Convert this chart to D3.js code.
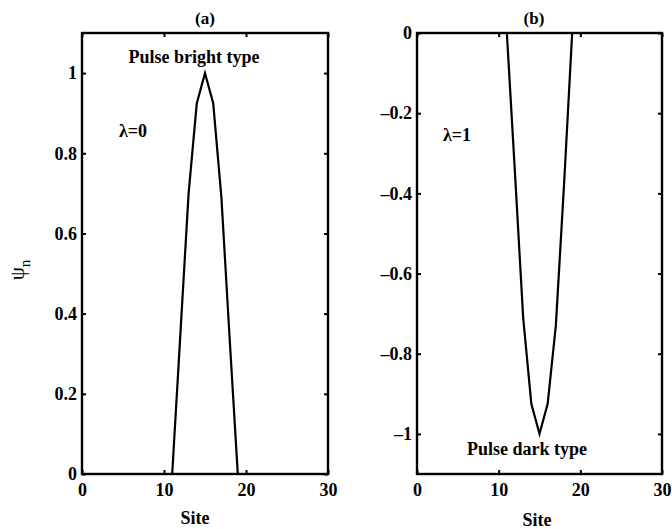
<!DOCTYPE html>
<html lang="en">
<head>
  <meta charset="UTF-8">
  <title>Pulse bright and dark type</title>
  <style>
    html, body { margin: 0; background: #fff; }
    svg text { font-family: "Times New Roman", "Liberation Serif", Times, "DejaVu Serif", serif; font-weight: bold; fill: #000; }
    .line { fill: none; stroke: #000; stroke-width: 2.2px; stroke-linejoin: miter; }
    .frame { fill: none; stroke: #000; stroke-width: 2.4px; }
    .axis path { display: none; }
    .axis line { stroke: #000; stroke-width: 2px; }
    .axis text { font-size: 18px; }
  </style>
</head>
<body>
<svg id="chart" width="672" height="529" viewBox="0 0 672 529"></svg>
<script src="https://d3js.org/d3.v7.min.js"></script>
<script>

// site index n
const sites = [0, 1, 2, 3, 4, 5, 6, 7, 8, 9, 10, 11, 12, 13, 14, 15,
               16, 17, 18, 19, 20, 21, 22, 23, 24, 25, 26, 27, 28, 29, 30];

// psi_n, lambda = 0 (bright pulse)
const brightPsi = [0, 0, 0, 0, 0, 0, 0, 0, 0, 0, 0, 0, 0.35, 0.70, 0.925, 1,
                   0.925, 0.69, 0.34, 0, 0, 0, 0, 0, 0, 0, 0, 0, 0, 0, 0];

// psi_n, lambda = 1 (dark pulse)
const darkPsi = [0, 0, 0, 0, 0, 0, 0, 0, 0, 0, 0, 0, -0.35, -0.71, -0.925, -1,
                 -0.925, -0.73, -0.38, 0, 0, 0, 0, 0, 0, 0, 0, 0, 0, 0, 0];

const xTicks = [0, 10, 20, 30];
const brightTicks = [0, 0.2, 0.4, 0.6, 0.8, 1];
const darkTicks = [0, -0.2, -0.4, -0.6, -0.8, -1];

const svg = d3.select("#chart");
const top_ = 33, bottom_ = 474;

const fmt = d => d < 0 ? "\u2013" + d3.format("")(-d) : d3.format("")(d);

function panel(opts) {
  const x = d3.scaleLinear().domain([0, 30]).range([opts.left, opts.right]);
  const y = d3.scaleLinear().domain(opts.yDomain).range([bottom_, top_]);
  const g = svg.append("g");

  g.append("g").attr("class", "axis")
      .attr("transform", "translate(0," + bottom_ + ")")
      .call(d3.axisBottom(x).tickValues(xTicks).tickSizeInner(-4).tickSizeOuter(0).tickPadding(9));
  g.append("g").attr("class", "axis")
      .attr("transform", "translate(0," + top_ + ")")
      .call(d3.axisTop(x).tickValues(xTicks).tickSizeInner(-4).tickSizeOuter(0).tickFormat(""));
  g.append("g").attr("class", "axis")
      .attr("transform", "translate(" + opts.left + ",0)")
      .call(d3.axisLeft(y).tickValues(opts.yTicks).tickSizeInner(-4).tickSizeOuter(0).tickPadding(5).tickFormat(fmt));
  g.append("g").attr("class", "axis")
      .attr("transform", "translate(" + opts.right + ",0)")
      .call(d3.axisRight(y).tickValues(opts.yTicks).tickSizeInner(-4).tickSizeOuter(0).tickFormat(""));
  g.selectAll(".axis").attr("font-family", null).attr("font-size", null);

  g.append("path")
      .datum(sites.map((s, i) => [s, opts.values[i]]))
      .attr("class", "line")
      .attr("d", d3.line().x(d => x(d[0])).y(d => y(d[1])));

  g.append("rect").attr("class", "frame")
      .attr("x", opts.left).attr("y", top_)
      .attr("width", opts.right - opts.left).attr("height", bottom_ - top_);

  g.append("text").attr("x", opts.titleX).attr("y", 24)
      .attr("text-anchor", "middle").style("font-size", "17px").text(opts.title);
  g.append("text").attr("x", opts.siteX).attr("y", opts.siteY)
      .attr("text-anchor", "middle").style("font-size", "18px").text("Site");
  g.append("text").attr("x", opts.noteX).attr("y", opts.noteY)
      .attr("text-anchor", "middle").style("font-size", "18px").text(opts.note);
  g.append("text").attr("x", opts.lamX).attr("y", opts.lamY)
      .attr("text-anchor", "middle").style("font-size", "18px").text(opts.lam);
}

panel({
  left: 82, right: 328, yDomain: [0, 1.1], yTicks: brightTicks, values: brightPsi,
  title: "(a)", titleX: 205, siteX: 195, siteY: 524,
  note: "Pulse bright type", noteX: 194, noteY: 63,
  lam: "\u03bb=0", lamX: 133, lamY: 137
});

panel({
  left: 417, right: 662, yDomain: [-1.1, 0], yTicks: darkTicks, values: darkPsi,
  title: "(b)", titleX: 534, siteX: 537, siteY: 526,
  note: "Pulse dark type", noteX: 527, noteY: 455,
  lam: "\u03bb=1", lamX: 457, lamY: 141
});

// y axis label psi_n
const yl = svg.append("text")
    .attr("transform", "translate(24,270) rotate(-90)")
    .attr("text-anchor", "middle")
    .style("font-weight", "normal")
    .style("font-size", "21px");
yl.append("tspan").text("\u03c8");
yl.append("tspan").attr("dy", 6).style("font-size", "15px").text("n");

</script>
</body>
</html>
